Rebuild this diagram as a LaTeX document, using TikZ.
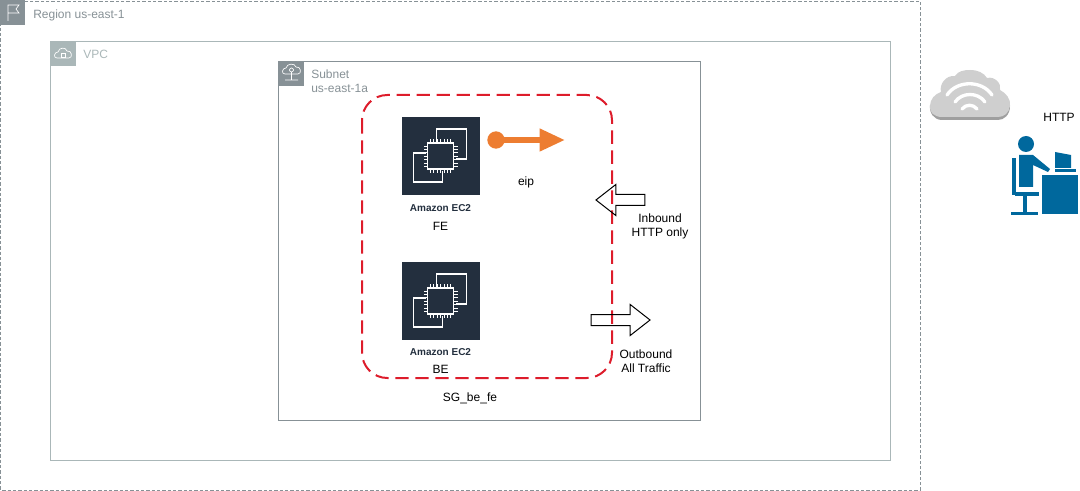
\documentclass[tikz,border=0pt]{standalone}
\usepackage{fontspec}
\setmainfont{Liberation Sans}
\usetikzlibrary{arrows.meta,positioning,shapes.arrows}
\definecolor{regiongrey}{HTML}{879196}
\definecolor{vpcgrey}{HTML}{AAB7B8}
\definecolor{ec2navy}{HTML}{232F3E}
\definecolor{sgred}{HTML}{DD1C2B}
\definecolor{eiporange}{HTML}{ED7D31}
\definecolor{userblue}{HTML}{00689D}
\tikzset{
	label text/.style={font=\fontsize{9}{10.5}\selectfont,align=center,text=black},
	group text/.style={font=\fontsize{9}{10.5}\selectfont,align=left,anchor=west,inner sep=0pt},
	group box/.style={draw=#1,line width=.6pt},
	group icon/.style={fill=#1,draw=none,minimum size=18.75pt,inner sep=0pt,anchor=north west},
	flow arrow/.style={draw=black,fill=none,line width=.75pt,single arrow,inner sep=0pt,
		minimum width=22.5pt,single arrow head extend=7.5pt,single arrow tip angle=76,
		single arrow head indent=0pt},
	ec2 name/.style={font=\bfseries\fontsize{7.5}{9}\selectfont,text=ec2navy},
	ec2 box/.style={fill=ec2navy,minimum size=58.5pt,inner sep=0pt},
	pics/ec2chip/.style={code={
		\draw[white,line width=1.1pt] (-4,-14) -- (-4,-27) -- (26,-27) -- (26,3) -- (15,3);
		\draw[white,line width=1.1pt] (-15,-3) -- (-27,-3) -- (-27,26) -- (2,26) -- (2,15);
		\draw[white,line width=1.2pt] (-13,-13) rectangle (13,13);
		\foreach \p in {-10,-6.6,...,10.5} {
			\draw[white,line width=.7pt] (\p,-13) -- (\p,-17) (\p,13) -- (\p,17)
				(-13,\p) -- (-17,\p) (13,\p) -- (17,\p);
		}
	}}
}
\begin{document}
\begin{tikzpicture}[x=.75pt,y=-.75pt,node distance=13.5pt,on grid]
	\useasboundingbox (0,0) rectangle (1080,491);
	% groups
	\draw[group box=regiongrey,dash pattern=on 2.5pt off 1.5pt] (.5,1) rectangle (920,490);
	\draw[group box=vpcgrey] (50.5,41) rectangle (890,460);
	\draw[group box=regiongrey] (278.5,61) rectangle (700,420);
	\node[group icon=regiongrey] (regionicon) at (0,0) {};
	\node[group icon=vpcgrey] (vpcicon) at (51,41) {};
	\node[group icon=regiongrey] (subneticon) at (279,61) {};
	\node[group text,text=regiongrey] (regionlabel) at (33,15) {Region us-east-1};
	\node[group text,text=vpcgrey] (vpclabel) at (83,54) {VPC};
	\node[group text,text=regiongrey] (subnetlabel) at (311,81) {Subnet\\us-east-1a};
	% small group icons
	\draw[white,line width=.5pt] (8,21) -- (8,5) -- (19,5) -- (16,9) -- (19,13) -- (8,13);
	\draw[white,line width=.5pt] (57,58) .. controls (53,58) and (54,52) .. (58,52)
		.. controls (59,47) and (66,47) .. (67,51) .. controls (72,50) and (73,58) .. (69,58) -- cycle;
	\draw[white,line width=.5pt] (61,53.5) rectangle (65,57);
	\draw[white,line width=.5pt] (285,74) .. controls (281,74) and (282,68) .. (286,68)
		.. controls (287,63) and (295,63) .. (296,67) .. controls (301,66) and (302,74) .. (298,74) -- cycle;
	\draw[white,line width=.5pt] (291.5,72) -- (291.5,80) (285,80) -- (298,80)
		(291.5,70) circle (2);
	% security group
	\draw[sgred,line width=1.5pt,dash pattern=on 10pt off 5pt,rounded corners=19pt] (362,95) rectangle (612,378);
	% instances
	\node[ec2 box] (fe) at (440.5,156) {};
	\node[ec2 box] (be) at (440.5,301) {};
	\pic at (fe) {ec2chip};
	\pic at (be) {ec2chip};
	\node[ec2 name,below=39pt of fe] (fename) {Amazon EC2};
	\node[label text,below=of fename] (felabel) {FE};
	\node[ec2 name,below=38.5pt of be] (bename) {Amazon EC2};
	\node[label text,below=13pt of bename] (belabel) {BE};
	% elastic ip
	\node[circle,fill=eiporange,minimum size=13pt,inner sep=0pt,outer sep=-1pt] (eipdot) at (496,140) {};
	\coordinate (eiptip) at (565,140);
	\draw[eiporange,line width=4.5pt,-{Triangle[length=19pt,width=16pt]}] (eipdot) -- (eiptip);
	\node[label text] (eiplabel) at (526,182) {eip};
	% traffic
	\node[flow arrow,shape border rotate=180,minimum height=36.75pt] (inbound) at (624,200) {\rule{0pt}{7.5pt}};
	\node[label text,below=20pt of inbound,xshift=27pt] (inlabel) {Inbound\\HTTP only};
	\node[flow arrow,minimum height=44.25pt] (outbound) at (617,320) {\rule{0pt}{7.5pt}};
	\node[label text,below=30.75pt of outbound,xshift=21.75pt] (outlabel) {Outbound\\All Traffic};
	\node[label text] (sglabel) at (470,398) {SG\_be\_fe};
	% internet
	\fill[gray!75] (942,120) .. controls (934,120) and (929,113) .. (930,105) -- (1010,106)
		.. controls (1010,115) and (1004,120) .. (998,120) -- cycle;
	\fill[black!19] (942,117) .. controls (934,117) and (929,112) .. (930,106)
		.. controls (930,99) and (935,94) .. (941,92) .. controls (939,84) and (946,75) .. (955,76)
		.. controls (958,71) and (964,70) .. (970,70) .. controls (978,70) and (984,73) .. (987,78)
		.. controls (995,76) and (1002,84) .. (1000,90) .. controls (1006,93) and (1011,99) .. (1010,106)
		.. controls (1009,113) and (1004,117) .. (998,117) -- cycle;
	\draw[white,line width=2.5pt,line cap=round] (947,95) .. controls (957,80) and (982,80) .. (992,95)
		(955,102) .. controls (962,92) and (978,92) .. (985,102)
		(962,109) .. controls (966,104) and (973,104) .. (977,109);
	% user
	\node[label text] (httplabel) at (1059,117) {HTTP};
	\fill[userblue] (1026,144) circle (8);
	\fill[userblue] (1012,158) rectangle (1016,195);
	\fill[userblue] (1015,192) rectangle (1039,196);
	\fill[userblue] (1023,196) rectangle (1027,212);
	\fill[userblue] (1011,212) rectangle (1038,215);
	\fill[userblue] (1019,155) -- (1033,155) -- (1050,169) -- (1048,172) -- (1033,165) -- (1033,187) -- (1019,187) -- cycle;
	\fill[userblue] (1042,175) rectangle (1078,214);
	\fill[userblue] (1055,152) -- (1071,155) -- (1071,168) -- (1055,168) -- cycle;
	\fill[userblue] (1055,169.5) rectangle (1076,172.5);
\end{tikzpicture}
\end{document}
